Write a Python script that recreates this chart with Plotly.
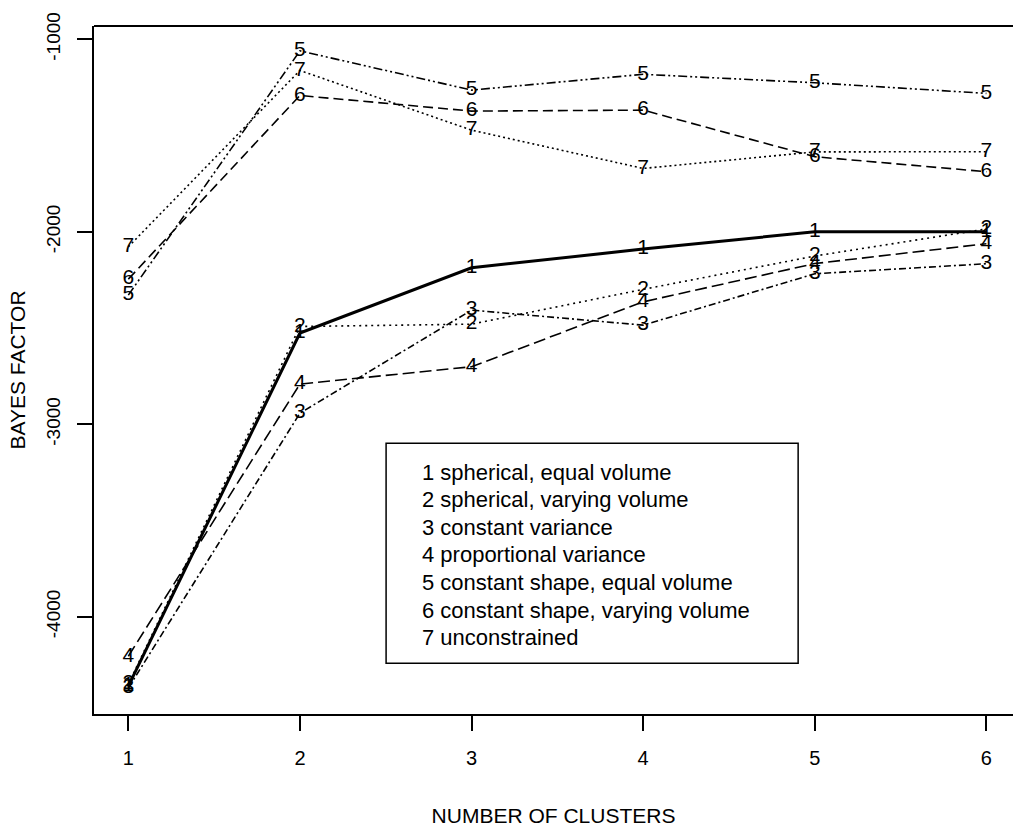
import plotly.graph_objects as go

clusters = [1, 2, 3, 4, 5, 6]
tick_labels_x = ["1", "2", "3", "4", "5", "6"]
y_ticks = [-1000, -2000, -3000, -4000]
y_tick_labels = ["-1000", "-2000", "-3000", "-4000"]

s1 = [-4360, -2526, -2187, -2090, -2000, -2000]
s2 = [-4350, -2492, -2480, -2299, -2126, -1985]
s3 = [-4370, -2942, -2407, -2485, -2218, -2166]
s4 = [-4205, -2791, -2701, -2364, -2165, -2062]
s5 = [-2329, -1060, -1264, -1182, -1226, -1281]
s6 = [-2246, -1292, -1373, -1368, -1610, -1688]
s7 = [-2078, -1162, -1472, -1671, -1585, -1584]

names = ["1", "2", "3", "4", "5", "6", "7"]
legend_lines = [
    "1 spherical, equal volume",
    "2 spherical, varying volume",
    "3 constant variance",
    "4 proportional variance",
    "5 constant shape, equal volume",
    "6 constant shape, varying volume",
    "7 unconstrained",
]

series = [s1, s2, s3, s4, s5, s6, s7]
dashes = ["solid", "2px,4px", "7px,3px,2px,3px", "12px,5px",
          "9px,3px,2px,3px,2px,3px", "10px,5px", "2px,3px"]
widths = [3, 1.6, 1.6, 1.6, 1.6, 1.6, 1.6]

FONT = "Liberation Sans, Arial, Helvetica, sans-serif"

fig = go.Figure()
for name, ys, d, w in zip(names, series, dashes, widths):
    fig.add_trace(go.Scatter(
        x=clusters, y=ys, mode="lines+text",
        text=[name] * len(clusters), textposition="middle center",
        textfont=dict(family=FONT, size=21, color="black"),
        line=dict(color="black", width=w, dash=d),
        name=name, showlegend=False, cliponaxis=False,
    ))

# legend box (data coordinates, like R's legend())
fig.add_shape(type="rect", xref="x", yref="y",
              x0=2.502, x1=4.903, y0=-3098, y1=-4241,
              line=dict(color="black", width=1.5), fillcolor="white",
              layer="below")
for i, txt in enumerate(legend_lines):
    fig.add_annotation(xref="x", yref="y", x=2.70, y=-3250 - i * 143,
                       text=txt, showarrow=False, xanchor="left",
                       yanchor="middle",
                       font=dict(family=FONT, size=22, color="black"))

# top frame line
fig.add_shape(type="line", xref="paper", yref="paper", x0=0, x1=1, y0=1, y1=1,
              line=dict(color="black", width=2))

fig.update_layout(
    width=1013, height=832,
    margin=dict(l=94, r=0, t=26, b=118),
    paper_bgcolor="white", plot_bgcolor="white",
    font=dict(family=FONT, size=20, color="black"),
    xaxis=dict(range=[0.8, 6.155], tickmode="array", tickvals=clusters,
               ticktext=tick_labels_x, ticks="outside", ticklen=15,
               tickwidth=1.5, tickcolor="black", showline=True,
               linecolor="black", linewidth=2, showgrid=False, zeroline=False,
               tickfont=dict(size=20), ticklabelstandoff=10,
               title=dict(text="NUMBER OF CLUSTERS", standoff=40,
                          font=dict(size=21))),
    yaxis=dict(range=[-4505, -931], tickmode="array", tickvals=y_ticks,
               ticktext=y_tick_labels, ticks="outside", ticklen=15,
               tickwidth=1.5, tickcolor="black", showline=True,
               linecolor="black", linewidth=2, showgrid=False, zeroline=False,
               tickangle=-90, tickfont=dict(size=19), ticklabelstandoff=9,
               title=dict(text="BAYES FACTOR", standoff=12,
                          font=dict(size=21))),
)

fig.write_html("out.html")
